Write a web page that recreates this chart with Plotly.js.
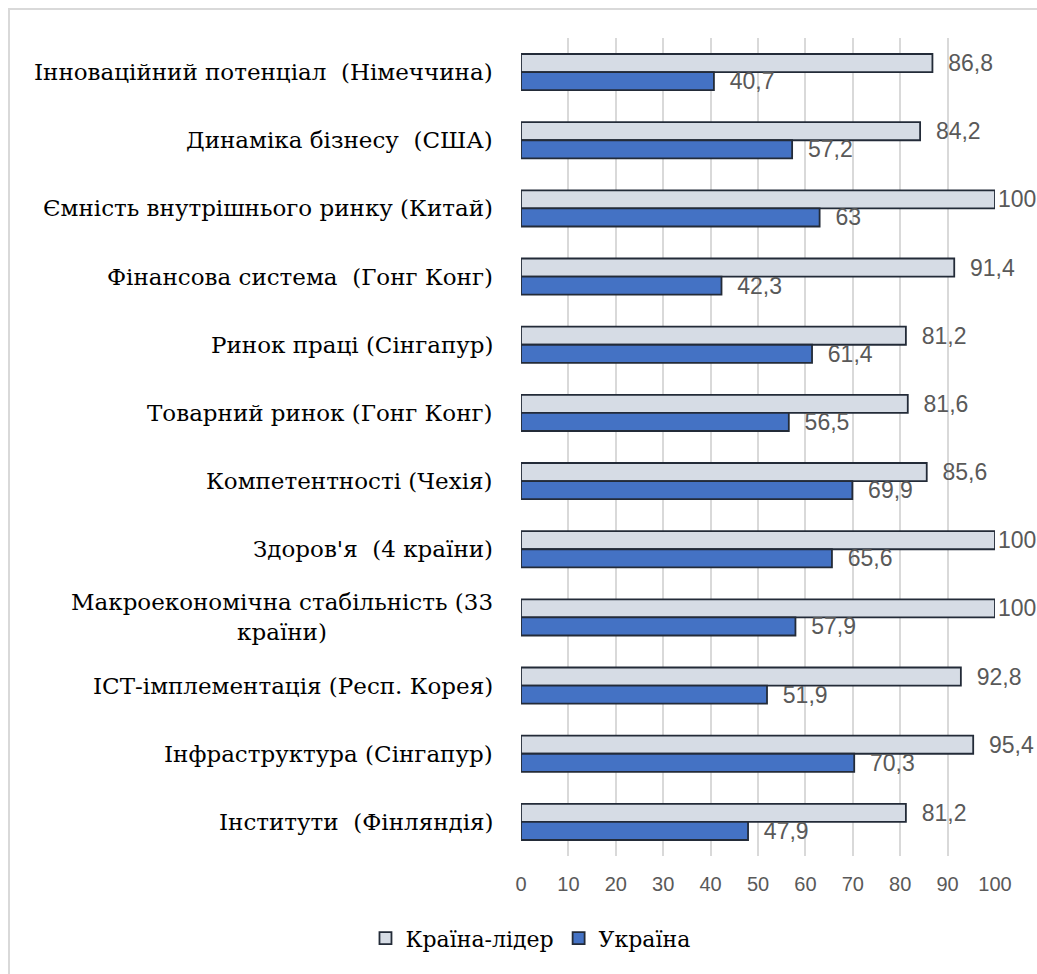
<!DOCTYPE html>
<html><head><meta charset="utf-8">
<script src="https://cdn.plot.ly/plotly-3.0.1.min.js"></script>
<style>
html,body{margin:0;padding:0;background:#fff;}
#wrap{position:relative;width:1037px;height:974px;overflow:hidden;}
#frame{position:absolute;left:8px;top:8px;width:1100px;height:1100px;border:2px solid #d9d9d9;box-sizing:border-box;pointer-events:none;}
#chart{position:absolute;left:0;top:0;width:1037px;height:974px;}
</style></head>
<body><div id="wrap"><div id="chart"></div><div id="frame"></div></div>
<script>
const categories = [
  "Інноваційний потенціал  (Німеччина)",
  "Динаміка бізнесу  (США)",
  "Ємність внутрішнього ринку (Китай)",
  "Фінансова система  (Гонг Конг)",
  "Ринок праці (Сінгапур)",
  "Товарний ринок (Гонг Конг)",
  "Компетентності (Чехія)",
  "Здоров'я  (4 країни)",
  "Макроекономічна стабільність (33<br>країни)",
  "ІСТ-імплементація (Респ. Корея)",
  "Інфраструктура (Сінгапур)",
  "Інститути  (Фінляндія)"
];
const leaderValues = [86.8, 84.2, 100, 91.4, 81.2, 81.6, 85.6, 100, 100, 92.8, 95.4, 81.2];
const ukraineValues = [40.7, 57.2, 63, 42.3, 61.4, 56.5, 69.9, 65.6, 57.9, 51.9, 70.3, 47.9];
const seriesNames = ["Країна-лідер", "Україна"];
const xTicks = [0, 10, 20, 30, 40, 50, 60, 70, 80, 90, 100];
const xMax = 100;

const serif = "DejaVu Serif";
const sans = "Liberation Sans";
const outline = {color: '#232b38', width: 1.8};
// Excel-style label: comma decimal, padded away from the bar end unless the bar reaches the axis end
const fmt = v => (v >= xMax ? '' : '\u00A0\u00A0') + String(v).replace('.', ',');

const traces = [
  {type:'bar', orientation:'h', name: seriesNames[0], y: categories, x: leaderValues,
   marker:{color:'#d6dce5', line: outline},
   text: leaderValues.map(fmt), textposition:'outside', constraintext:'none',
   textfont:{family: sans, size: 23, color:'#595959'}, cliponaxis:false},
  {type:'bar', orientation:'h', name: seriesNames[1], y: categories, x: ukraineValues,
   marker:{color:'#4472c4', line: outline},
   text: ukraineValues.map(fmt), textposition:'outside', constraintext:'none',
   textfont:{family: sans, size: 23, color:'#595959'}, cliponaxis:false}
];

const annotations = categories.map(c => ({
  xref:'paper', yref:'y', x:0, y:c, xanchor:'right', yanchor:'middle', xshift:-26,
  text:c, showarrow:false, align:'center',
  font:{family: serif, size: 23, color:'#000'}
}));

const layout = {
  width:1037, height:974,
  font:{family: serif},
  margin:{l:521, r:42, t:38, b:118, autoexpand:false},
  paper_bgcolor:'#fff', plot_bgcolor:'#fff',
  barmode:'group', bargap:0.47, bargroupgap:0,
  separators:', ',
  showlegend:true,
  legend:{orientation:'h', x:0.02, xanchor:'center', y:-0.075, yanchor:'top',
          font:{family: serif, size: 22, color:'#000'}, traceorder:'normal'},
  xaxis:{range:[0,xMax], tickvals:xTicks, showgrid:true, gridcolor:'#d9d9d9', gridwidth:2,
         zeroline:false, showline:false, ticks:'', ticklabelstandoff:14,
         tickfont:{family: sans, size: 20, color:'#595959'}, fixedrange:true},
  yaxis:{type:'category', categoryorder:'array', categoryarray:categories, autorange:'reversed',
         showticklabels:false, showgrid:false, zeroline:false, showline:false, ticks:'', fixedrange:true},
  annotations: annotations
};

Plotly.newPlot('chart', traces, layout, {displayModeBar:false});
</script></body></html>
